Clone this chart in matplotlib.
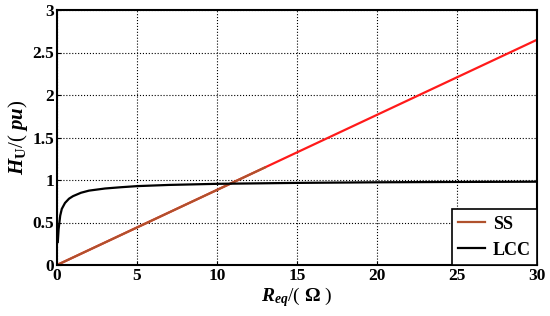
import matplotlib
matplotlib.use("Agg")
import matplotlib.pyplot as plt

plt.rcParams["font.family"] = "Liberation Serif"
plt.rcParams["font.weight"] = "bold"
plt.rcParams["mathtext.fontset"] = "custom"
plt.rcParams["mathtext.it"] = "Liberation Serif:italic:bold"
plt.rcParams["mathtext.rm"] = "Liberation Serif:bold"
plt.rcParams["mathtext.bf"] = "Liberation Serif:bold"

# SS : linear gain vs load
r_ss = [0, 30]
h_ss = [0, 2.65]
r_ss_low = [0, 13]
h_ss_low = [0, 1.148]

# LCC : saturating gain
r_lcc = [0.05, 0.1, 0.2, 0.3, 0.5, 0.75, 1, 1.5, 2, 3, 4, 5, 7, 10, 15, 20, 25, 30]
h_lcc = [0.27, 0.42, 0.58, 0.66, 0.73, 0.78, 0.81, 0.85, 0.875, 0.9, 0.915, 0.928,
         0.942, 0.955, 0.966, 0.973, 0.977, 0.98]

fig = plt.figure(figsize=(5.5, 3.16), dpi=100)
ax = fig.add_axes([57/550, 1 - 265/316, 480/550, 255/316])

ax.plot(r_ss, h_ss, color="#ff1a1a", lw=1.6)
ax.plot(r_ss_low, h_ss_low, color="#b0522d", lw=1.6, label="SS")
ax.plot(r_lcc, h_lcc, color="black", lw=1.6, label="LCC")

ax.set_xlim(0, 30)
ax.set_ylim(0, 3)
ax.set_xticks([0, 5, 10, 15, 20, 25, 30])
ax.set_yticks([0, 0.5, 1, 1.5, 2, 2.5, 3])
ax.set_yticklabels(["0", "0.5", "1", "1.5", "2", "2.5", "3"])
ax.grid(True, color="black", ls=":", lw=0.8)
ax.tick_params(direction="in", labelsize=12.5, length=3, pad=2)
for s in ax.spines.values():
    s.set_linewidth(1.5)

ax.set_xlabel(r"$R_{eq}$/( $\Omega$ )", fontsize=14, labelpad=1)
ax.set_ylabel(r"$H_{\mathrm{U}}$/( $pu$)", fontsize=15, labelpad=2)

leg = ax.legend(loc="lower right", fontsize=13, fancybox=False, framealpha=1,
                edgecolor="black", handlelength=1.5, handletextpad=0.4,
                borderaxespad=0, borderpad=0.35, labelspacing=0.5)
leg.get_frame().set_linewidth(1.2)

fig.savefig("out.png", dpi=100)
